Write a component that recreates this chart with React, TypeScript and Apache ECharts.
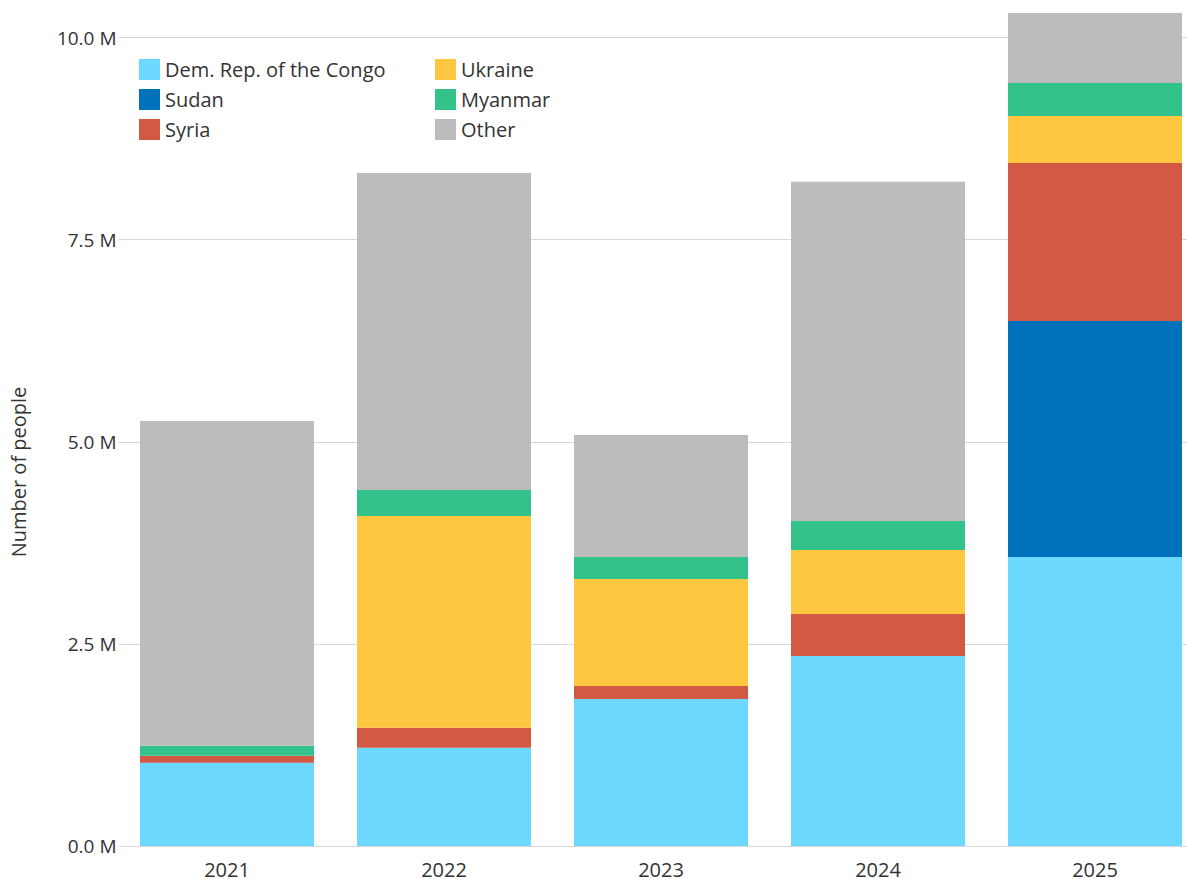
import React, { useEffect, useRef } from "react";
import * as echarts from "echarts";

const years = ["2021", "2022", "2023", "2024", "2025"];
const congo = [1030000, 1216000, 1819000, 2351000, 3575000];
const sudan = [0, 0, 0, 0, 2920000];
const syria = [87000, 248000, 160000, 520000, 1955000];
const ukraine = [0, 2619000, 1324000, 792000, 581000];
const myanmar = [124000, 322000, 272000, 359000, 408000];
const other = [4017000, 3922000, 1510000, 4194000, 866000];
const yTicks = [0, 2500000, 5000000, 7500000, 10000000];

const seriesDefs = [
  { name: "Dem. Rep. of the Congo", data: congo, color: "#6CD8FD" },
  { name: "Sudan", data: sudan, color: "#0072BC" },
  { name: "Syria", data: syria, color: "#D25A45" },
  { name: "Ukraine", data: ukraine, color: "#FFC640" },
  { name: "Myanmar", data: myanmar, color: "#33C28A" },
  { name: "Other", data: other, color: "#BCBCBC" },
];

const FONT = "'Open Sans', 'Noto Sans', sans-serif";

export default function App() {
  const ref = useRef<HTMLDivElement>(null);
  useEffect(() => {
    if (!ref.current) return;
    const chart = echarts.init(ref.current, undefined, { renderer: "svg" });
    const totals = years.map((_, i) => seriesDefs.reduce((s, d) => s + d.data[i], 0));
    const maxTotal = Math.max(...totals);
    const legendCommon = {
      orient: "vertical" as const,
      top: 54,
      itemWidth: 21,
      itemHeight: 21,
      itemGap: 9,
      icon: "rect",
      selectedMode: false,
      textStyle: { fontSize: 20, color: "#333", fontFamily: FONT },
    };
    chart.setOption({
      animation: false,
      textStyle: { fontFamily: FONT },
      grid: {
        left: 118.5,
        width: 1085,
        top: 13,
        bottom: 33,
        containLabel: false,
        outerBoundsMode: "none",
      },
      legend: [
        { ...legendCommon, left: 134, data: seriesDefs.slice(0, 3).map((d) => d.name) },
        { ...legendCommon, left: 430, data: seriesDefs.slice(3).map((d) => d.name) },
      ],
      graphic: [
        {
          type: "text",
          x: 18,
          y: 472,
          rotation: Math.PI / 2,
          style: {
            text: "Number of people",
            fontSize: 20,
            fill: "#333",
            fontFamily: FONT,
            align: "center",
            verticalAlign: "middle",
          },
        },
      ],
      xAxis: {
        type: "category",
        data: years,
        axisLine: { show: false },
        axisTick: { show: false },
        axisLabel: { fontSize: 20, color: "#333", margin: 13, fontFamily: FONT },
      },
      yAxis: {
        type: "value",
        min: 0,
        max: maxTotal,
        interval: yTicks[1] - yTicks[0],
        axisLine: { show: false },
        axisTick: { show: false },
        splitLine: { show: true, showMaxLine: false, lineStyle: { color: "#D8D8D8", width: 1 } },
        axisLabel: {
          fontSize: 19,
          color: "#333",
          margin: 2,
          fontFamily: FONT,
          showMaxLabel: false,
          formatter: (v: number) => (v / 1e6).toFixed(1) + " M",
        },
      },
      series: seriesDefs.map((d) => ({
        name: d.name,
        type: "bar",
        stack: "total",
        barWidth: 174,
        data: d.data,
        itemStyle: { color: d.color },
        emphasis: { disabled: true },
      })),
    });
    return () => chart.dispose();
  }, []);
  return (
    <div
      ref={ref}
      style={{ position: "fixed", left: 0, top: 0, width: 1187, height: 879, background: "#fff" }}
    />
  );
}
